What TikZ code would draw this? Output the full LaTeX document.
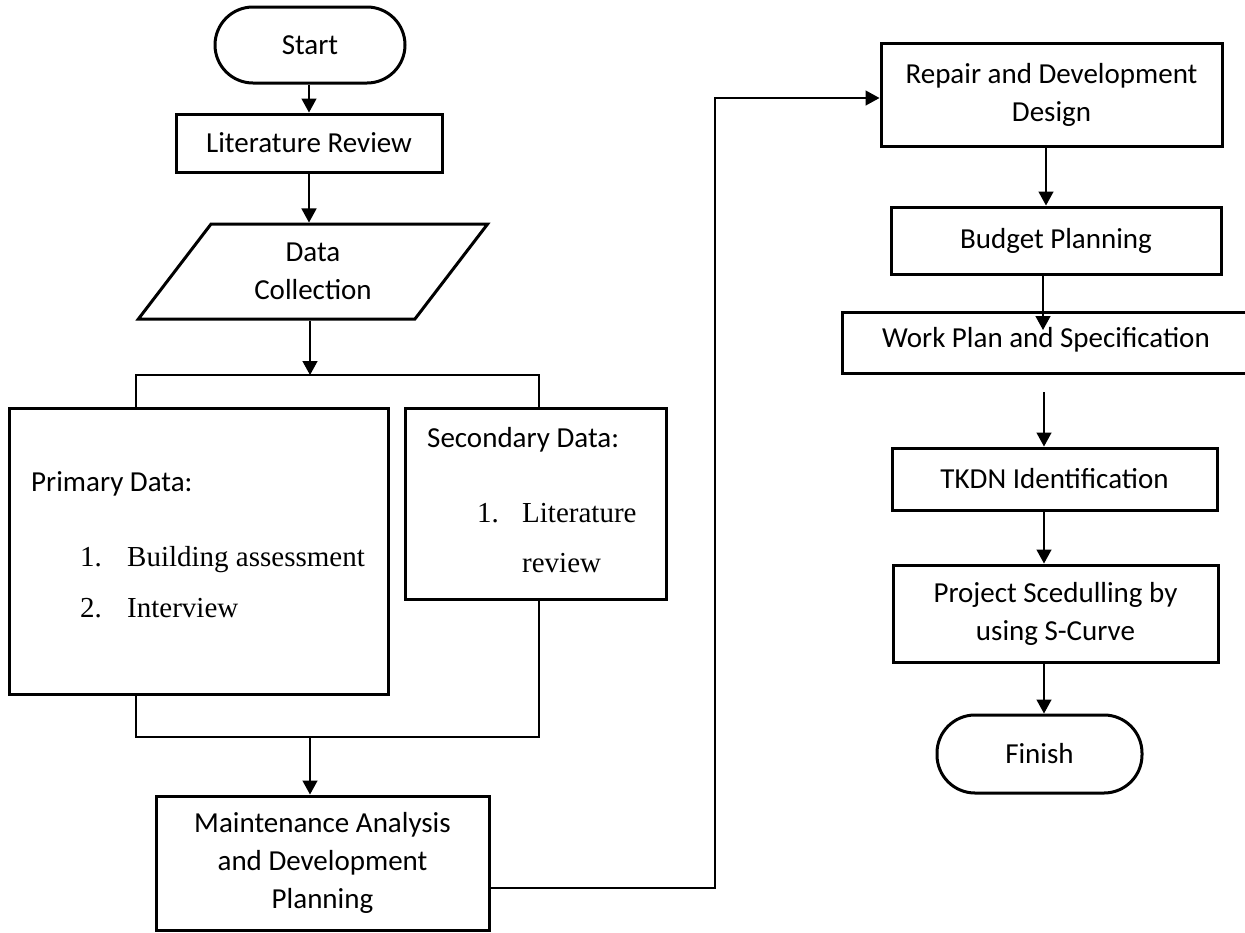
\documentclass[tikz,border=0pt]{standalone}
\usepackage{fontspec}
\setmainfont{Carlito}
\newfontfamily\serifT{Liberation Serif}
\usetikzlibrary{arrows.meta,shapes.geometric}
\tikzset{
  box/.style={draw, line width=3pt, inner sep=0pt, align=center,
    font=\fontsize{29}{38}\selectfont},
  term/.style={box, rounded corners=38pt},
  conn/.style={line width=1.4pt},
  arr/.style={conn, -{Triangle[length=14pt,width=15pt]}},
  txt/.style={inner sep=0pt, font=\fontsize{29}{38}\selectfont},
  stxt/.style={inner sep=0pt, font=\serifT\fontsize{29}{38}\selectfont},
}
\begin{document}
\begin{tikzpicture}[x=1pt,y=-1pt]
\clip (0,0) rectangle (1245,932);
\fill[white] (0,0) rectangle (1245,932);
% left column
\node[term, minimum width=190pt, minimum height=76pt] (start) at (310,45) {Start};
\node[box, minimum width=266pt, minimum height=58pt] (litrev) at (309,143) {Literature Review};
\node[box, trapezium, trapezium left angle=53.6, trapezium right angle=126.4,
  trapezium stretches=true, minimum width=350pt, minimum height=95pt] (data) at (313,271.5) {Data\\Collection};
\coordinate (splitc) at (310,375);
\coordinate (splitl) at (136,375);
\coordinate (splitr) at (539,375);
\node[box, minimum width=379pt, minimum height=286pt] (primary) at (198.5,551) {};
\node[box, minimum width=261pt, minimum height=191pt] (secondary) at (535.5,503.5) {};
\node[txt, anchor=base west] (ptitle) at (31,491) {Primary Data:};
\node[stxt, anchor=base west] (p1n) at (80,566) {1.};
\node[stxt, anchor=base west] (p1) at (127,566) {Building assessment};
\node[stxt, anchor=base west] (p2n) at (80,617) {2.};
\node[stxt, anchor=base west] (p2) at (127,617) {Interview};
\node[txt, anchor=base west] (stitle) at (427,447) {Secondary Data:};
\node[stxt, anchor=base west] (s1n) at (477,522) {1.};
\node[stxt, anchor=base west] (s1) at (522,522) {Literature};
\node[stxt, anchor=base west] (s1b) at (522,572) {review};
\coordinate (joinl) at (136,737);
\coordinate (joinr) at (539,737);
\coordinate (joinc) at (310,737);
\node[box, minimum width=333pt, minimum height=134pt] (maint) at (322.5,863) {Maintenance Analysis\\and Development\\Planning};
% right column
\node[box, minimum width=341pt, minimum height=103pt] (repair) at (1051.5,94.5) {Repair and Development\\Design};
\node[box, minimum width=330pt, minimum height=67pt] (budget) at (1056,240.5) {Budget Planning};
\node[box, minimum width=408pt, minimum height=61pt] (work) at (1046,342.5) {};
\node[txt] (worktxt) at (1046,340) {Work Plan and Specification};
\node[box, minimum width=325pt, minimum height=62pt] (tkdn) at (1054.5,479) {TKDN Identification};
\node[box, minimum width=325pt, minimum height=97pt] (proj) at (1055.5,613.5) {Project Scedulling by\\using S-Curve};
\node[term, minimum width=205pt, minimum height=78pt] (finish) at (1039.5,754) {Finish};
\coordinate (mout) at (489,888);
\coordinate (c1) at (715,888);
\coordinate (c2) at (715,98);
\coordinate (wtip) at (1043,330);
\coordinate (wout) at (1044,392);
% connectors
\draw[arr] (start.south -| litrev.north) -- (litrev.north);
\draw[arr] (litrev.south) -- (litrev.south |- data.north);
\draw[arr] (data.south -| splitc) -- (splitc);
\draw[conn] (primary.north -| splitl) -- (splitl) -- (splitr) -- (secondary.north -| splitr);
\draw[conn] (primary.south -| joinl) -- (joinl) -- (joinr) -- (secondary.south -| joinr);
\draw[arr] (joinc) -- (maint.north -| joinc);
\draw[arr] (mout) -- (c1) -- (c2) -- (c2 -| repair.west);
\draw[arr] (repair.south -| 1046,0) -- (budget.north -| 1046,0);
\draw[arr] (budget.south -| wtip) -- (wtip);
\draw[arr] (wout) -- (tkdn.north -| wout);
\draw[arr] (tkdn.south -| wout) -- (proj.north -| wout);
\draw[arr] (proj.south -| wout) -- (finish.north -| wout);
\end{tikzpicture}
\end{document}
